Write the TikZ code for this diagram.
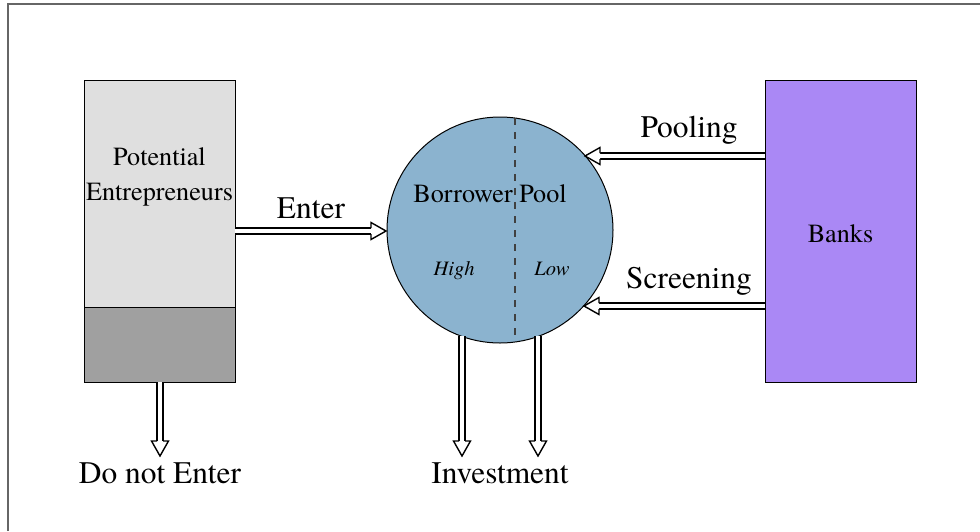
\documentclass[tikz,border=0pt]{standalone}
\usepackage{fontspec}
\setmainfont{TeX Gyre Termes}
\usetikzlibrary{calc}
\definecolor{lgray}{HTML}{DFDFDF}
\definecolor{dgray}{HTML}{A0A0A0}
\definecolor{poolblue}{HTML}{8BB3CF}
\definecolor{bankpurple}{HTML}{AA88F5}
\definecolor{framegray}{HTML}{666666}
\tikzset{
  box/.style={draw=black, line width=1pt, inner sep=0pt, rectangle},
  flowline/.style={double=white, draw=black, line width=1.4pt, double distance=4.6pt},
  flowhead/.style={draw=black, line width=1.4pt, line join=miter, fill=white},
  big/.style={inner sep=0pt, anchor=base, font=\fontsize{31.4}{35}\selectfont},
  mid/.style={inner sep=0pt, font=\fontsize{26.2}{35}\selectfont},
  small/.style={inner sep=0pt, anchor=base, font=\fontsize{20.5}{24}\itshape\selectfont},
}
\newcommand\flowarr[2]{%
  \coordinate (fb) at ($(#2)!15pt!(#1)$);
  \draw[flowline] (#1) -- (fb);
  \coordinate (fc1) at ($(fb)!8.5pt!90:(#2)$);
  \coordinate (fc2) at ($(fb)!8.5pt!-90:(#2)$);
  \coordinate (fo1) at ($(fb)!3pt!90:(#2)$);
  \coordinate (fo2) at ($(fb)!3pt!-90:(#2)$);
  \fill[white] (fc1) -- (#2) -- (fc2) -- cycle;
  \draw[flowhead, fill=none] (fo1) -- (fc1) -- (#2) -- (fc2) -- (fo2);
}
\begin{document}
\begin{tikzpicture}[x=1pt,y=-1pt]
\useasboundingbox (0,0) rectangle (980,531);
% frame (top and left edges visible)
\draw[framegray, line width=1.2pt] (8,531) -- (8,4) -- (980,4);
% potential entrepreneurs
\node[box, fill=lgray, minimum width=151pt, minimum height=227pt] (pe) at (159.5,193.5) {};
\node[box, fill=dgray, minimum width=151pt, minimum height=75pt] (ped) at (159.5,344.5) {};
\node[mid, anchor=base] (pet1) at (159.5,165) {Potential};
\node[mid, anchor=base] (pet2) at (159.5,200) {Entrepreneurs};
% banks
\node[box, fill=bankpurple, minimum width=151pt, minimum height=302pt] (banks) at (840.5,231) {};
\node[mid] (bankst) at (840.5,234) {Banks};
% borrower pool
\node[draw=black, line width=1pt, circle, fill=poolblue, minimum size=226pt, inner sep=0pt] (pool) at (500,230) {};
\coordinate (dtop) at (515,118);
\coordinate (dbot) at (515,342);
\draw[black!75, line width=1.1pt, dash pattern=on 7pt off 7pt] (dtop) -- (dbot);
\node[big, font=\fontsize{26.2}{30}\selectfont] (bp) at (490,202) {Borrower Pool};
\node[small] (high) at (454,275) {High};
\node[small] (low) at (552,275) {Low};
% arrows
\coordinate (enterA) at (235,231);
\coordinate (enterB) at (386,231);
\flowarr{enterA}{enterB}
\node[big] (enterl) at (311,218) {Enter};
\coordinate (poolA) at (765,156);
\coordinate (poolB) at (585,156);
\flowarr{poolA}{poolB}
\node[big] (pooll) at (689,137) {Pooling};
\coordinate (scrA) at (765,306);
\coordinate (scrB) at (584,306);
\flowarr{scrA}{scrB}
\node[big] (scrl) at (689,288) {Screening};
\coordinate (inv1A) at (462,336);
\coordinate (inv1B) at (462,456);
\coordinate (inv2A) at (538,336);
\coordinate (inv2B) at (538,456);
\flowarr{inv1A}{inv1B}
\flowarr{inv2A}{inv2B}
\node[big] (invl) at (500,483) {Investment};
\coordinate (dneA) at (160,382);
\coordinate (dneB) at (160,456);
\flowarr{dneA}{dneB}
\node[big] (dnel) at (160,483) {Do not Enter};
\end{tikzpicture}
\end{document}
